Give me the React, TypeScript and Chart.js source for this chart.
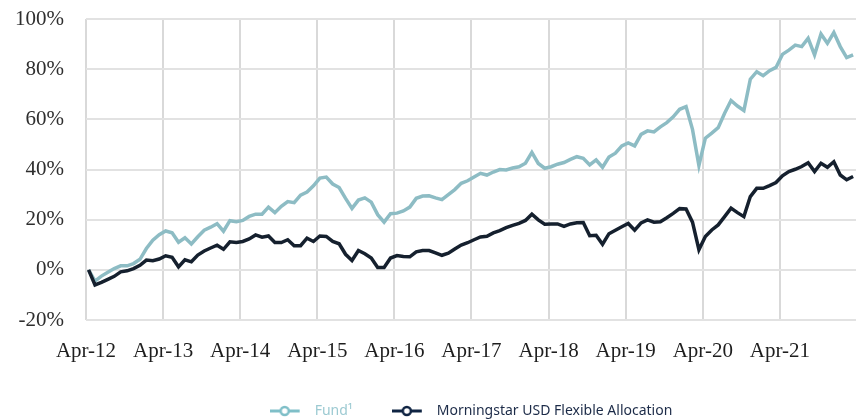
import React, { useEffect, useRef } from "react";
import { Chart, registerables } from "chart.js";

Chart.register(...registerables);

const yearLabels = ["Apr-12", "Apr-13", "Apr-14", "Apr-15", "Apr-16", "Apr-17", "Apr-18", "Apr-19", "Apr-20", "Apr-21"];

const yTickValues = [-20, 0, 20, 40, 60, 80, 100];

const fundLabel = "Fund\u00B9";
const benchLabel = "Morningstar USD Flexible Allocation";

// Monthly cumulative returns (%), Apr-12 .. Mar-22
const fund = [
  0, -4.5, -2.5, -1, 0.5, 1.6, 1.6, 2.5, 4.2, 8.5,
  11.8, 14, 15.5, 14.8, 11, 12.8, 10.3, 13.2, 15.8, 17,
  18.4, 15.4, 19.6, 19.2, 19.7, 21.3, 22.2, 22.2, 25, 22.8,
  25.3, 27.2, 26.8, 29.8, 31, 33.5, 36.6, 37, 34.2, 32.8,
  28.5, 24.5, 27.8, 28.7, 27, 22, 19, 22.4, 22.6, 23.5,
  25, 28.5, 29.4, 29.5, 28.7, 28, 30, 32, 34.5, 35.5,
  37, 38.5, 37.8, 39, 40, 39.8, 40.6, 41.1, 42.5, 46.8,
  42.4, 40.5, 41.1, 42.1, 42.8, 44, 45.1, 44.5, 41.8, 43.8,
  40.9, 45, 46.5, 49.4, 50.6, 49.4, 54, 55.4, 55, 57,
  58.7, 61, 64, 65.1, 56, 41.6, 52.5, 54.5, 56.7, 62.4,
  67.5, 65.3, 63.5, 76, 79, 77.4, 79.4, 80.7, 85.9, 87.6,
  89.6, 89, 92.3, 85.7, 94, 90.3, 94.6, 89, 84.6, 85.7,
];

const benchmark = [
  0, -6, -5, -3.8, -2.6, -0.8, -0.4, 0.5, 1.8, 3.9,
  3.6, 4.3, 5.6, 5.0, 1.2, 4.0, 3.2, 5.9, 7.5, 8.7,
  9.8, 8.2, 11.2, 10.9, 11.3, 12.3, 13.9, 13.0, 13.5, 10.9,
  10.9, 12.0, 9.6, 9.6, 12.6, 11.3, 13.5, 13.3, 11.3, 10.4,
  6.2, 3.7, 7.7, 6.4, 4.7, 0.9, 0.9, 4.7, 5.7, 5.3,
  5.2, 7.2, 7.7, 7.7, 6.8, 5.8, 6.6, 8.3, 9.9, 10.8,
  12.0, 13.1, 13.4, 14.7, 15.6, 16.8, 17.7, 18.5, 19.7, 22.2,
  19.9, 18.2, 18.3, 18.3, 17.3, 18.3, 18.8, 18.9, 13.6, 13.8,
  10.2, 14.4, 15.8, 17.2, 18.5, 15.8, 18.7, 19.9, 19.0, 19.2,
  20.8, 22.5, 24.4, 24.3, 19, 8.0, 13.3, 15.9, 17.9, 21.2,
  24.6, 22.8, 21.2, 29.2, 32.5, 32.5, 33.6, 34.8, 37.5, 39.2,
  40.1, 41.2, 42.7, 39.2, 42.5, 40.9, 43.1, 37.8, 35.9, 37.2,
];

const TEAL = "#8dbcc4";
const NAVY = "#15202e";
const TEAL_MARK = "#7fbfc8";
const NAVY_MARK = "#0f2443";

function makeMarker(color: string): HTMLCanvasElement {
  const c = document.createElement("canvas");
  c.width = 38;
  c.height = 12;
  const ctx = c.getContext("2d")!;
  ctx.strokeStyle = color;
  ctx.lineWidth = 3;
  ctx.beginPath();
  ctx.moveTo(0, 6);
  ctx.lineTo(30, 6);
  ctx.stroke();
  ctx.beginPath();
  ctx.arc(15, 6, 4, 0, Math.PI * 2);
  ctx.fillStyle = "#ffffff";
  ctx.fill();
  ctx.lineWidth = 2.5;
  ctx.stroke();
  return c;
}

export default function App() {
  const ref = useRef<HTMLCanvasElement | null>(null);

  useEffect(() => {
    if (!ref.current) return;
    const markFund = makeMarker(TEAL_MARK);
    const markBench = makeMarker(NAVY_MARK);
    const serif = { family: "'Liberation Serif', serif", size: 21 };

    const chart = new Chart(ref.current, {
      type: "line",
      data: {
        datasets: [
          {
            label: fundLabel,
            data: fund.map((v, i) => ({ x: i, y: v })),
            borderColor: TEAL,
            backgroundColor: TEAL,
            borderWidth: 3.5,
            pointRadius: 0,
            tension: 0,
            order: 1,
          },
          {
            label: benchLabel,
            data: benchmark.map((v, i) => ({ x: i, y: v })),
            borderColor: NAVY,
            backgroundColor: NAVY,
            borderWidth: 3.5,
            pointRadius: 0,
            tension: 0,
            order: 0,
          },
        ],
      },
      options: {
        animation: false,
        responsive: false,
        devicePixelRatio: 1,
        layout: { padding: { top: 19, right: 0, bottom: -9, left: 0 } },
        scales: {
          x: {
            type: "linear",
            min: -0.4,
            max: 119.45,
            afterBuildTicks: (scale: any) => {
              scale.ticks = yearLabels.map((_, k) => ({ value: -0.4 + 12 * k }));
            },
            afterFit: (scale: any) => {
              scale.height = 45;
            },
            ticks: {
              autoSkip: false,
              maxRotation: 0,
              padding: 19,
              color: "#1e1e1e",
              font: serif,
              callback: (_v: any, i: number) => yearLabels[i],
            },
            grid: { color: "#d9d9d9", lineWidth: 2, drawTicks: false },
            border: { display: false },
          },
          y: {
            min: -20,
            max: 100,
            afterBuildTicks: (scale: any) => {
              scale.ticks = yTickValues.map((v) => ({ value: v }));
            },
            afterFit: (scale: any) => {
              scale.width = 86;
              scale.paddingTop = 0;
              scale.paddingBottom = 0;
            },
            ticks: {
              padding: 22,
              color: "#2e2e2e",
              font: serif,
              callback: (v: any) => v + "%",
            },
            grid: { color: "#e2e2e2", lineWidth: 2, drawTicks: false },
            border: { display: false },
          },
        },
        plugins: {
          tooltip: { enabled: false },
          legend: {
            position: "bottom",
            fullSize: false,
            labels: {
              usePointStyle: true,
              pointStyleWidth: 38,
              boxHeight: 12,
              padding: 39,
              font: { family: "'Noto Sans', sans-serif", size: 14 },
              generateLabels: () => [
                {
                  text: fundLabel,
                  fillStyle: "transparent",
                  strokeStyle: "transparent",
                  lineWidth: 0,
                  pointStyle: markFund,
                  fontColor: "#9ccad2",
                  hidden: false,
                  datasetIndex: 0,
                } as any,
                {
                  text: benchLabel,
                  fillStyle: "transparent",
                  strokeStyle: "transparent",
                  lineWidth: 0,
                  pointStyle: markBench,
                  fontColor: "#1c2b48",
                  hidden: false,
                  datasetIndex: 1,
                } as any,
              ],
            },
          },
        },
      } as any,
    });
    return () => chart.destroy();
  }, []);

  return (
    <div style={{ position: "absolute", left: 0, top: 0, width: 856, height: 419, background: "#ffffff" }}>
      <canvas ref={ref} width={856} height={419} style={{ display: "block" }} />
    </div>
  );
}
